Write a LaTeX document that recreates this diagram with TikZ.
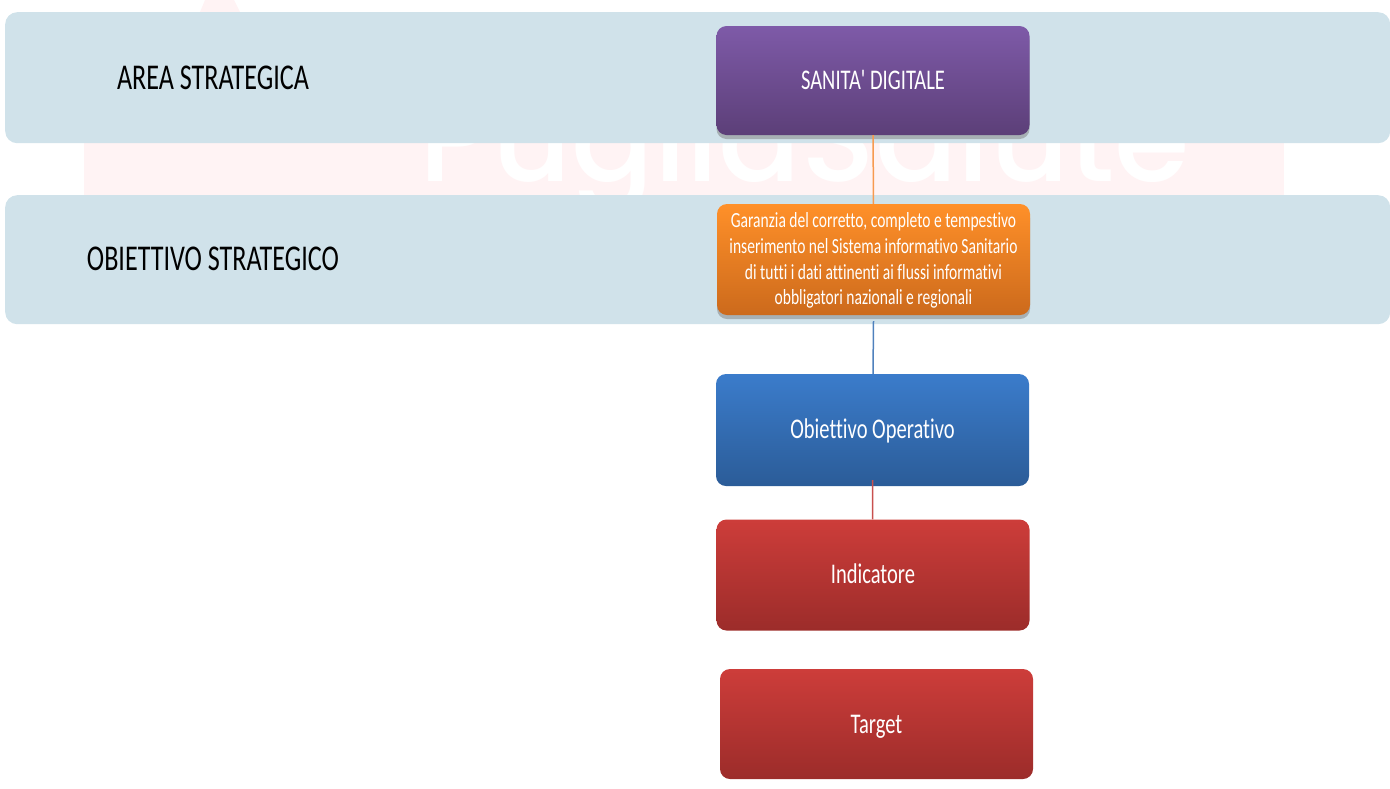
\documentclass[tikz,border=0pt]{standalone}
\usepackage{fontspec}
\usetikzlibrary{shadows, positioning}
\setmainfont{Carlito}
\newfontfamily\boxfont[FakeStretch=0.72, Ligatures=NoCommon]{Carlito}
\newfontfamily\markfont{Poppins Medium}
\definecolor{bandblue}{HTML}{D0E2EA}
\definecolor{markpink}{HTML}{FFF3F4}
\definecolor{purple1}{HTML}{7E5AA8}
\definecolor{purple2}{HTML}{5C3F78}
\definecolor{orange1}{HTML}{FF9029}
\definecolor{orange2}{HTML}{CC6A1C}
\definecolor{blue1}{HTML}{3B7CCB}
\definecolor{blue2}{HTML}{2B5C98}
\definecolor{red1}{HTML}{CD3D3A}
\definecolor{red2}{HTML}{9C2C2A}
\definecolor{lineorange}{HTML}{F79A50}
\definecolor{lineblue}{HTML}{4F81BD}
\definecolor{linered}{HTML}{C8504E}
\tikzstyle{band} = [rectangle, rounded corners=12pt, minimum width=1385pt, fill=bandblue, text=black, anchor=north west]
\tikzstyle{bandtext} = [text=black, font=\boxfont\fontsize{36.3}{44}\selectfont]
\tikzstyle{item} = [rectangle, rounded corners=10pt, minimum width=313pt, minimum height=111pt, text=white, align=center, font=\boxfont\fontsize{28.5}{34}\selectfont]
\tikzstyle{purplebox} = [item, top color=purple1, bottom color=purple2, drop shadow={shadow xshift=0pt, shadow yshift=-4pt, opacity=0.5}]
\tikzstyle{orangebox} = [item, top color=orange1, bottom color=orange2, drop shadow={shadow xshift=0pt, shadow yshift=-4pt, opacity=0.5}]
\tikzstyle{bluebox} = [item, top color=blue1, bottom color=blue2]
\tikzstyle{redbox} = [item, top color=red1, bottom color=red2]
\begin{document}
\begin{tikzpicture}[x=1pt, y=-1pt, node distance=145pt]
\useasboundingbox (0,0) rectangle (1390,788);
% watermark
\fill [markpink] (84,40) rectangle (1284,300);
\fill [markpink] (200,12) -- (205,0) -- (234,0) -- (240,12) -- cycle;
\node (mark) [anchor=base, text=white, font=\markfont\fontsize{122}{122}\selectfont] at (805,181) {PugliaSalute};
% bands
\node (band1) [band, minimum height=131pt] at (5,12) {};
\node (band2) [band, minimum height=129pt] at (5,195) {};
\node (area) [bandtext] at (213,78) {AREA STRATEGICA};
\node (obj) [bandtext] at (213,259) {OBIETTIVO STRATEGICO};
% boxes
\node (digitale) [purplebox, minimum height=109pt, text height=23pt, text depth=6pt] at (873,80.5) {SANITA' DIGITALE};
\node (garanzia) [orangebox, font=\boxfont\fontsize{21.6}{25.8}\selectfont] at (873.5,259.5) {\rule{0pt}{17pt}Garanzia del corretto, completo e tempestivo\\inserimento nel Sistema informativo Sanitario\\di tutti i dati attinenti ai flussi informativi\\obbligatori nazionali e regionali};
\node (operativo) [bluebox, minimum height=112pt, text height=22pt, text depth=6pt] at (872.5,430) {Obiettivo Operativo};
\node (indicatore) [redbox, below of=operativo, xshift=0.5pt, text height=22pt, text depth=6pt] {Indicatore};
\node (target) [redbox, below of=indicatore, xshift=3.5pt, yshift=-4pt, minimum height=110pt, text height=24pt, text depth=6pt] {Target};
\draw [lineorange, line width=1.5pt] (digitale) -- (garanzia);
\draw [lineblue, line width=1.5pt] ([yshift=-6pt]garanzia.south) -- (operativo);
\draw [linered, line width=1.5pt] ([yshift=6pt]operativo.south) -- (indicatore);
\end{tikzpicture}
\end{document}
